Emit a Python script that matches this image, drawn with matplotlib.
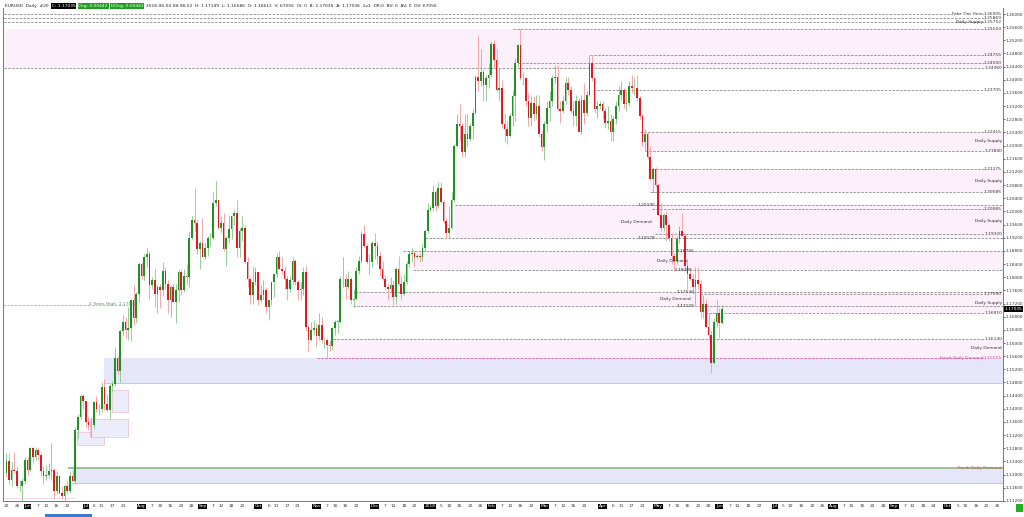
import numpy as np
import pandas as pd
import matplotlib
matplotlib.use("Agg")
import matplotlib.pyplot as plt
from matplotlib.patches import Rectangle

# ---------------------------------------------------------------- data
first_bar = "2017-05-22"
calendar_end = "2018-11-30"

opens = [
    # May 2017
    1.1205, 1.1240, 1.1185, 1.1215, 1.1210, 1.1165, 1.1165, 1.1180,
    # Jun 2017
    1.1245, 1.1215, 1.1280, 1.1255, 1.1275, 1.1260, 1.1210, 1.1195, 1.1200, 1.1210, 1.1215,
    1.1150, 1.1195, 1.1145, 1.1135, 1.1165, 1.1150, 1.1195, 1.1180, 1.1335, 1.1375, 1.1440,
    # Jul 2017
    1.1425, 1.1360, 1.1350, 1.1350, 1.1420, 1.1400, 1.1400, 1.1465, 1.1415, 1.1395, 1.1470,
    1.1475, 1.1555, 1.1515, 1.1635, 1.1665, 1.1640, 1.1645, 1.1730, 1.1675, 1.1750,
    # Aug 2017
    1.1840, 1.1805, 1.1860, 1.1870, 1.1775, 1.1790, 1.1750, 1.1770, 1.1760, 1.1820, 1.1780,
    1.1730, 1.1770, 1.1725, 1.1760, 1.1815, 1.1760, 1.1805, 1.1800, 1.1920, 1.1975, 1.1965, 1.1885,
    # Sep 2017
    1.1905, 1.1860, 1.1890, 1.1920, 1.1920, 1.2025, 1.2035, 1.1950, 1.1965, 1.1885, 1.1920,
    1.1945, 1.1985, 1.1995, 1.1890, 1.1940, 1.1950, 1.1845, 1.1795, 1.1745, 1.1785,
    # Oct 2017
    1.1815, 1.1730, 1.1745, 1.1760, 1.1710, 1.1730, 1.1785, 1.1810, 1.1860, 1.1825, 1.1820,
    1.1795, 1.1765, 1.1790, 1.1850, 1.1785, 1.1760, 1.1765, 1.1815, 1.1650, 1.1610, 1.1640,
    # Nov 2017
    1.1645, 1.1620, 1.1655, 1.1610, 1.1610, 1.1595, 1.1590, 1.1645, 1.1665, 1.1665, 1.1795,
    1.1795, 1.1770, 1.1795, 1.1730, 1.1735, 1.1820, 1.1850, 1.1930, 1.1895, 1.1845, 1.1845,
    # Dec 2017
    1.1905, 1.1895, 1.1865, 1.1825, 1.1795, 1.1770, 1.1765, 1.1775, 1.1740, 1.1825, 1.1780,
    1.1750, 1.1785, 1.1840, 1.1870, 1.1875, 1.1860, 1.1865, 1.1860, 1.1890, 1.1940,
    # Jan 2018
    1.2005, 1.2010, 1.2060, 1.2015, 1.2070, 1.2030, 1.1970, 1.1935, 1.1950, 1.2035, 1.2200,
    1.2265, 1.2260, 1.2180, 1.2235, 1.2220, 1.2260, 1.2300, 1.2410, 1.2395, 1.2425, 1.2385, 1.2405,
    # Feb 2018
    1.2415, 1.2510, 1.2460, 1.2370, 1.2375, 1.2265, 1.2250, 1.2230, 1.2290, 1.2350,
    1.2450, 1.2505, 1.2405, 1.2405, 1.2335, 1.2285, 1.2330, 1.2295, 1.2320, 1.2235,
    # Mar 2018
    1.2195, 1.2265, 1.2315, 1.2335, 1.2405, 1.2410, 1.2310, 1.2305, 1.2335, 1.2390, 1.2370,
    1.2305, 1.2290, 1.2335, 1.2240, 1.2340, 1.2300, 1.2355, 1.2450, 1.2405, 1.2310, 1.2320,
    # Apr 2018
    1.2325, 1.2305, 1.2270, 1.2275, 1.2240, 1.2280, 1.2320, 1.2355, 1.2370, 1.2325, 1.2330,
    1.2380, 1.2375, 1.2375, 1.2345, 1.2290, 1.2210, 1.2235, 1.2165, 1.2100, 1.2130,
    # May 2018
    1.2080, 1.1990, 1.1950, 1.1990, 1.1960, 1.1920, 1.1865, 1.1850, 1.1915, 1.1940, 1.1925,
    1.1835, 1.1810, 1.1795, 1.1770, 1.1790, 1.1780, 1.1695, 1.1720, 1.1650, 1.1625, 1.1540, 1.1665,
    # Jun 2018
    1.1690, 1.16612,
]
highs = [
    1.1265, 1.1265, 1.1238, 1.1268, 1.1225, 1.1185, 1.1190, 1.1255,
    1.1255, 1.1285, 1.1285, 1.1285, 1.1280, 1.1265, 1.1225, 1.1230, 1.1235, 1.1295, 1.1220,
    1.1210, 1.1200, 1.1165, 1.1170, 1.1185, 1.1210, 1.1215, 1.1345, 1.1385, 1.1445, 1.1445,
    1.1425, 1.1375, 1.1375, 1.1425, 1.1440, 1.1415, 1.1480, 1.1490, 1.1445, 1.1475, 1.1485,
    1.1585, 1.1560, 1.1640, 1.1685, 1.1680, 1.1710, 1.1735, 1.1775, 1.1755, 1.1845,
    1.1845, 1.1870, 1.1890, 1.1880, 1.1800, 1.1825, 1.1775, 1.1780, 1.1845, 1.1830, 1.1790,
    1.1775, 1.1780, 1.1780, 1.1825, 1.1825, 1.1825, 1.1840, 1.1940, 1.1985, 1.2070, 1.1975, 1.1910,
    1.1980, 1.1905, 1.1925, 1.1935, 1.2060, 1.2092, 1.2035, 1.1985, 1.1995, 1.1925, 1.1990,
    1.1985, 1.2005, 1.2035, 1.1950, 1.1985, 1.1960, 1.1860, 1.1800, 1.1835, 1.1830,
    1.1815, 1.1775, 1.1790, 1.1770, 1.1730, 1.1785, 1.1810, 1.1875, 1.1880, 1.1860, 1.1835,
    1.1805, 1.1805, 1.1860, 1.1855, 1.1790, 1.1785, 1.1830, 1.1835, 1.1655, 1.1665, 1.1670,
    1.1660, 1.1690, 1.1680, 1.1615, 1.1615, 1.1610, 1.1650, 1.1670, 1.1670, 1.1805, 1.1860,
    1.1810, 1.1820, 1.1800, 1.1765, 1.1830, 1.1865, 1.1940, 1.1960, 1.1900, 1.1870, 1.1910,
    1.1935, 1.1910, 1.1880, 1.1850, 1.1805, 1.1780, 1.1800, 1.1790, 1.1830, 1.1865, 1.1805,
    1.1810, 1.1850, 1.1880, 1.1890, 1.1880, 1.1870, 1.1875, 1.1905, 1.1945, 1.2025,
    1.2020, 1.2080, 1.2065, 1.2090, 1.2090, 1.2035, 1.1980, 1.2015, 1.2060, 1.2205, 1.2295,
    1.2325, 1.2270, 1.2295, 1.2295, 1.2270, 1.2310, 1.2415, 1.2537, 1.2495, 1.2430, 1.2415, 1.2450,
    1.2517, 1.2520, 1.2495, 1.2435, 1.2400, 1.2295, 1.2275, 1.2300, 1.2370, 1.2465,
    1.2510, 1.2555, 1.2425, 1.2410, 1.2360, 1.2350, 1.2350, 1.2355, 1.2355, 1.2245,
    1.2275, 1.2335, 1.2365, 1.2415, 1.2445, 1.2445, 1.2335, 1.2350, 1.2410, 1.2410, 1.2380,
    1.2335, 1.2355, 1.2345, 1.2355, 1.2390, 1.2365, 1.2475, 1.2476, 1.2410, 1.2335, 1.2335,
    1.2335, 1.2315, 1.2320, 1.2295, 1.2290, 1.2335, 1.2380, 1.2395, 1.2375, 1.2365, 1.2395,
    1.2415, 1.2410, 1.2415, 1.2350, 1.2295, 1.2250, 1.2240, 1.2200, 1.2135, 1.2135,
    1.2085, 1.2025, 1.1995, 1.2000, 1.1965, 1.1935, 1.1875, 1.1925, 1.1955, 1.1995, 1.1935,
    1.1850, 1.1830, 1.1810, 1.1830, 1.1830, 1.1790, 1.1745, 1.1735, 1.1690, 1.1640, 1.1675, 1.1730,
    1.1705, 1.17149,
]
lows = [
    1.1195, 1.1170, 1.1165, 1.1205, 1.1160, 1.1150, 1.1110, 1.1175,
    1.1200, 1.1210, 1.1235, 1.1245, 1.1245, 1.1195, 1.1170, 1.1185, 1.1190, 1.1185, 1.1130,
    1.1140, 1.1140, 1.1130, 1.1120, 1.1140, 1.1145, 1.1180, 1.1170, 1.1310, 1.1370, 1.1400,
    1.1345, 1.1335, 1.1315, 1.1340, 1.1390, 1.1380, 1.1390, 1.1395, 1.1390, 1.1370, 1.1455,
    1.1470, 1.1505, 1.1480, 1.1620, 1.1615, 1.1610, 1.1605, 1.1655, 1.1660, 1.1725,
    1.1795, 1.1790, 1.1830, 1.1730, 1.1765, 1.1710, 1.1690, 1.1705, 1.1745, 1.1765, 1.1690,
    1.1680, 1.1725, 1.1660, 1.1725, 1.1745, 1.1755, 1.1775, 1.1770, 1.1915, 1.1940, 1.1870, 1.1825,
    1.1860, 1.1855, 1.1865, 1.1895, 1.1915, 1.2015, 1.1945, 1.1935, 1.1880, 1.1835, 1.1905,
    1.1915, 1.1960, 1.1860, 1.1860, 1.1910, 1.1840, 1.1770, 1.1720, 1.1720, 1.1775,
    1.1715, 1.1725, 1.1730, 1.1690, 1.1670, 1.1715, 1.1740, 1.1800, 1.1825, 1.1810, 1.1765,
    1.1730, 1.1755, 1.1780, 1.1775, 1.1730, 1.1730, 1.1745, 1.1635, 1.1575, 1.1605, 1.1625,
    1.1590, 1.1610, 1.1600, 1.1585, 1.1555, 1.1575, 1.1580, 1.1625, 1.1630, 1.1660, 1.1770,
    1.1735, 1.1765, 1.1720, 1.1710, 1.1730, 1.1810, 1.1845, 1.1890, 1.1840, 1.1810, 1.1830,
    1.1855, 1.1840, 1.1805, 1.1790, 1.1760, 1.1730, 1.1755, 1.1715, 1.1720, 1.1775, 1.1730,
    1.1745, 1.1780, 1.1830, 1.1845, 1.1835, 1.1855, 1.1845, 1.1850, 1.1880, 1.1935,
    1.2000, 1.2000, 1.2000, 1.2010, 1.2025, 1.1965, 1.1915, 1.1920, 1.1945, 1.2030, 1.2195,
    1.2215, 1.2165, 1.2165, 1.2200, 1.2215, 1.2220, 1.2295, 1.2365, 1.2380, 1.2335, 1.2335, 1.2375,
    1.2410, 1.2435, 1.2365, 1.2335, 1.2255, 1.2210, 1.2206, 1.2225, 1.2260, 1.2275,
    1.2440, 1.2400, 1.2385, 1.2320, 1.2260, 1.2260, 1.2275, 1.2280, 1.2225, 1.2185,
    1.2155, 1.2240, 1.2275, 1.2320, 1.2390, 1.2305, 1.2270, 1.2300, 1.2325, 1.2355, 1.2300,
    1.2260, 1.2260, 1.2240, 1.2235, 1.2265, 1.2290, 1.2350, 1.2395, 1.2300, 1.2285, 1.2310,
    1.2285, 1.2255, 1.2250, 1.2215, 1.2215, 1.2265, 1.2305, 1.2340, 1.2315, 1.2305, 1.2320,
    1.2360, 1.2355, 1.2335, 1.2280, 1.2200, 1.2185, 1.2160, 1.2095, 1.2055, 1.2075,
    1.1985, 1.1940, 1.1940, 1.1910, 1.1910, 1.1840, 1.1820, 1.1840, 1.1905, 1.1925, 1.1820,
    1.1765, 1.1790, 1.1750, 1.1715, 1.1765, 1.1675, 1.1675, 1.1645, 1.1610, 1.1510, 1.1535, 1.1650,
    1.1615, 1.16586,
]
closes = [
    1.1240, 1.1185, 1.1215, 1.1210, 1.1165, 1.1165, 1.1180, 1.1245,
    1.1215, 1.1280, 1.1255, 1.1275, 1.1260, 1.1210, 1.1195, 1.1200, 1.1210, 1.1215, 1.1150,
    1.1195, 1.1145, 1.1135, 1.1165, 1.1150, 1.1195, 1.1180, 1.1335, 1.1375, 1.1440, 1.1425,
    1.1360, 1.1350, 1.1350, 1.1420, 1.1400, 1.1400, 1.1465, 1.1415, 1.1395, 1.1470, 1.1475,
    1.1555, 1.1515, 1.1635, 1.1665, 1.1640, 1.1645, 1.1730, 1.1675, 1.1750, 1.1840,
    1.1805, 1.1860, 1.1870, 1.1775, 1.1790, 1.1750, 1.1770, 1.1760, 1.1820, 1.1780, 1.1730,
    1.1770, 1.1725, 1.1760, 1.1815, 1.1760, 1.1805, 1.1800, 1.1920, 1.1975, 1.1965, 1.1885, 1.1905,
    1.1860, 1.1890, 1.1920, 1.1920, 1.2025, 1.2035, 1.1950, 1.1965, 1.1885, 1.1920, 1.1945,
    1.1985, 1.1995, 1.1890, 1.1940, 1.1950, 1.1845, 1.1795, 1.1745, 1.1785, 1.1815,
    1.1730, 1.1745, 1.1760, 1.1710, 1.1730, 1.1785, 1.1810, 1.1860, 1.1825, 1.1820, 1.1795,
    1.1765, 1.1790, 1.1850, 1.1785, 1.1760, 1.1765, 1.1815, 1.1650, 1.1610, 1.1640, 1.1645,
    1.1620, 1.1655, 1.1610, 1.1610, 1.1595, 1.1590, 1.1645, 1.1665, 1.1665, 1.1795, 1.1795,
    1.1770, 1.1795, 1.1730, 1.1735, 1.1820, 1.1850, 1.1930, 1.1895, 1.1845, 1.1845, 1.1905,
    1.1895, 1.1865, 1.1825, 1.1795, 1.1770, 1.1765, 1.1775, 1.1740, 1.1825, 1.1780, 1.1750,
    1.1785, 1.1840, 1.1870, 1.1875, 1.1860, 1.1865, 1.1860, 1.1890, 1.1940, 1.2005,
    1.2010, 1.2060, 1.2015, 1.2070, 1.2030, 1.1970, 1.1935, 1.1950, 1.2035, 1.2200, 1.2265,
    1.2260, 1.2180, 1.2235, 1.2220, 1.2260, 1.2300, 1.2410, 1.2395, 1.2425, 1.2385, 1.2405, 1.2415,
    1.2510, 1.2460, 1.2370, 1.2375, 1.2265, 1.2250, 1.2230, 1.2290, 1.2350, 1.2450,
    1.2505, 1.2405, 1.2405, 1.2335, 1.2285, 1.2330, 1.2295, 1.2320, 1.2235, 1.2195,
    1.2265, 1.2315, 1.2335, 1.2405, 1.2410, 1.2310, 1.2305, 1.2335, 1.2390, 1.2370, 1.2305,
    1.2290, 1.2335, 1.2240, 1.2340, 1.2300, 1.2355, 1.2450, 1.2405, 1.2310, 1.2320, 1.2325,
    1.2305, 1.2270, 1.2275, 1.2240, 1.2280, 1.2320, 1.2355, 1.2370, 1.2325, 1.2330, 1.2380,
    1.2375, 1.2375, 1.2345, 1.2290, 1.2210, 1.2235, 1.2165, 1.2100, 1.2130, 1.2080,
    1.1990, 1.1950, 1.1990, 1.1960, 1.1920, 1.1865, 1.1850, 1.1915, 1.1940, 1.1925, 1.1835,
    1.1810, 1.1795, 1.1770, 1.1790, 1.1780, 1.1695, 1.1720, 1.1650, 1.1625, 1.1540, 1.1665, 1.1690,
    1.1660, 1.17035,
]

ytick_labels = ["1.11200", "1.11600", "1.12000", "1.12400", "1.12800", "1.13200", "1.13600",
                "1.14000", "1.14400", "1.14800", "1.15200", "1.15600", "1.16000", "1.16400",
                "1.16800", "1.17200", "1.17600", "1.18000", "1.18400", "1.18800", "1.19200",
                "1.19600", "1.20000", "1.20400", "1.20800", "1.21200", "1.21600", "1.22000",
                "1.22400", "1.22800", "1.23200", "1.23600", "1.24000", "1.24400", "1.24800",
                "1.25200", "1.25600", "1.26000"]

xtick_dates = ["2017-05-22", "2017-05-26", "2017-06-01", "2017-06-07", "2017-06-12", "2017-06-16",
               "2017-06-22", "2017-07-03", "2017-07-06", "2017-07-11", "2017-07-17", "2017-07-21",
               "2017-08-01", "2017-08-07", "2017-08-10", "2017-08-16", "2017-08-22", "2017-08-28",
               "2017-09-01", "2017-09-07", "2017-09-12", "2017-09-18", "2017-09-22", "2017-10-02",
               "2017-10-06", "2017-10-11", "2017-10-17", "2017-10-23", "2017-11-01", "2017-11-07",
               "2017-11-10", "2017-11-16", "2017-11-22", "2017-12-01", "2017-12-07", "2017-12-12",
               "2017-12-18", "2017-12-22", "2018-01-01", "2018-01-05", "2018-01-10", "2018-01-16",
               "2018-01-22", "2018-01-26", "2018-02-01", "2018-02-07", "2018-02-12", "2018-02-16",
               "2018-02-22", "2018-03-01", "2018-03-07", "2018-03-12", "2018-03-16", "2018-03-22",
               "2018-04-02", "2018-04-06", "2018-04-11", "2018-04-17", "2018-04-23", "2018-05-01",
               "2018-05-07", "2018-05-10", "2018-05-16", "2018-05-22", "2018-05-28", "2018-06-01",
               "2018-06-07", "2018-06-12", "2018-06-18", "2018-06-22", "2018-07-02", "2018-07-05",
               "2018-07-10", "2018-07-16", "2018-07-20", "2018-07-26", "2018-08-01", "2018-08-07",
               "2018-08-10", "2018-08-16", "2018-08-22", "2018-08-28", "2018-09-03", "2018-09-07",
               "2018-09-12", "2018-09-18", "2018-09-24", "2018-10-01", "2018-10-05", "2018-10-10",
               "2018-10-16", "2018-10-22", "2018-10-26"]
xtick_labels = ["22", "26", "Jun", "7", "12", "16", "22", "Jul", "6", "11", "17", "21",
                "Aug", "7", "10", "16", "22", "28", "Sep", "7", "12", "18", "22", "Oct",
                "6", "11", "17", "23", "Nov", "7", "10", "16", "22", "Dec", "7", "12",
                "18", "22", "2018", "5", "10", "16", "22", "26", "Feb", "7", "12", "16",
                "22", "Mar", "7", "12", "16", "22", "Apr", "6", "11", "17", "23", "May",
                "7", "10", "16", "22", "28", "Jun", "7", "12", "18", "22", "Jul", "5",
                "10", "16", "20", "26", "Aug", "7", "10", "16", "22", "28", "Sep", "7",
                "12", "18", "24", "Oct", "5", "10", "16", "22", "26"]
boxed_labels = ["Jan", "Feb", "Mar", "Apr", "May", "Jun", "Jul", "Aug", "Sep", "Oct", "Nov", "Dec", "2018"]

# horizontal levels with right-hand price labels
level_prices = [1.26005, 1.25869, 1.25752, 1.25550, 1.24755, 1.24500, 1.24360, 1.23705,
                1.22415, 1.21840, 1.21275, 1.20585, 1.20085, 1.19320, 1.17500, 1.16910,
                1.16130, 1.15555]
level_labels = ["1.26005", "1.25869", "1.25752", "1.25550", "1.24755", "1.24500", "1.24360",
                "1.23705", "1.22415", "1.21840", "1.21275", "1.20585", "1.20085", "1.19320",
                "1.17500", "1.16910", "1.16130", "1.15555"]
# demand levels with labels inside the chart
demand_prices = [1.20195, 1.19178, 1.18795, 1.18205, 1.17536, 1.17129]
demand_labels = ["1.20195", "1.19178", "1.18795", "1.18205", "1.17536", "1.17129"]
two_year_high = 1.17164

# zones: (upper, lower)
supply_zone_bounds = [(1.25550, 1.24360), (1.22415, 1.21840), (1.21275, 1.20585),
                      (1.20085, 1.19320), (1.17500, 1.16910)]
demand_zone_bounds = [(1.20195, 1.19178), (1.18795, 1.18205), (1.17536, 1.17129),
                      (1.16130, 1.15555)]
blue_zone_bounds = [(1.15555, 1.14780), (1.12215, 1.11745)]
small_box_bounds = [(1.13290, 1.12900), (1.13690, 1.13140), (1.14570, 1.13900)]

header_main = "EURUSD  Daily  #20"
header_close = "C: 1.17035"
header_chg = "Chg: 0.00442"
header_dchg = "DChg: 0.00442"
header_rest = ("2018-06-04 08:38:52  H: 1.17149  L: 1.16586  O: 1.16612  V: 67056  OI: 0  "
               "B: 1.17035  A: 1.17036  1x1  DR:0  BV: 0  AV: 0  DV: 67056")
current_price = 1.17035

# ---------------------------------------------------------------- layout helpers
W, H = 1024, 517
X0, PXB = 6.35, 2.65          # pixel x of first bar, pixels per bar
Y0, PXP = 14.0, 3290.0        # pixel y of 1.26, pixels per price unit


def px2i(px):
    return (px - X0) / PXB


def py2p(py):
    return 1.26 - (py - Y0) / PXP


cal = pd.bdate_range(first_bar, calendar_end)
n = len(closes)
idx = np.arange(n)
o = np.array(opens); h = np.array(highs); l = np.array(lows); c = np.array(closes)
assert len(o) == len(h) == len(l) == n

plt.rcParams["font.family"] = ["DejaVu Sans"]
fig = plt.figure(figsize=(W / 100, H / 100), dpi=100)
fig.patch.set_facecolor("white")
ax = fig.add_axes([3 / W, (H - 501) / H, 1000 / W, (501 - 8) / H])
ax.set_facecolor("white")
XMIN, XMAX = px2i(3), px2i(1003)
ax.set_xlim(XMIN, XMAX)
ax.set_ylim(py2p(501), py2p(8))

PINK = "#fcf0fb"
BLUE = "#e6e6fa"
LINE = "#8a8a8a"
DASH = (0, (3, 1.6))
TXT = "#333333"
FS = 3.2

# --- zone fills
supply_start_px = [0, 640, 648, 652, 700]
for (up, lo), sx in zip(supply_zone_bounds, supply_start_px):
    ax.add_patch(Rectangle((px2i(sx), lo), XMAX - px2i(sx), up - lo, fc=PINK, ec="none", zorder=0))
demand_start_px = [455, 413, 355, 333]
for (up, lo), sx in zip(demand_zone_bounds, demand_start_px):
    ax.add_patch(Rectangle((px2i(sx), lo), XMAX - px2i(sx), up - lo, fc=PINK, ec="none", zorder=0))
blue_start_px = [104, 72]
for (up, lo), sx in zip(blue_zone_bounds, blue_start_px):
    ax.add_patch(Rectangle((px2i(sx), lo), XMAX - px2i(sx), up - lo, fc=BLUE, ec="none", zorder=0))
    ax.hlines([lo], px2i(sx), XMAX, colors="#f0a8cc", lw=0.6, zorder=1)
box_x_px = [(77, 104), (90, 128), (112, 128)]
for (up, lo), (x1, x2) in zip(small_box_bounds, box_x_px):
    ax.add_patch(Rectangle((px2i(x1), lo), px2i(x2) - px2i(x1), up - lo, fc="#ececfb",
                           ec="#f0b8d4", lw=0.5, zorder=0.5))

# green line on the lower demand zone
ax.hlines([blue_zone_bounds[1][0]], px2i(68), XMAX, colors="#8fb58f", lw=1.2, zorder=1.2)
# faint low line
ax.hlines([1.11290], XMIN, px2i(75), colors="#f4c8dc", lw=0.5, zorder=1)

# --- dashed levels with right labels
level_start_px = [0, 0, 0, 513, 590, 518, 0, 593, 640, 645, 648, 650, 652, 655, 700, 705, 333, 317]
for p, lab, sx in zip(level_prices, level_labels, level_start_px):
    col = "#e05a9a" if lab == "1.15555" else LINE
    ax.hlines([p], px2i(sx), px2i(984), colors=col, lw=0.6, linestyles=[DASH], zorder=1)
    ax.text(px2i(1002), p, lab, ha="right", va="center", fontsize=FS,
            color=("#e04c8c" if lab == "1.15555" else TXT), zorder=5)

# --- demand levels with in-chart labels
demand_start_px = [455, 425, 403, 413, 355, 353]
demand_label_px = [638, 638, 677, 675, 677, 677]
for p, lab, sx, lx in zip(demand_prices, demand_labels, demand_start_px, demand_label_px):
    ax.hlines([p], px2i(sx), XMAX, colors=LINE, lw=0.6, linestyles=[DASH], zorder=1)
    ax.text(px2i(lx), p, lab, ha="left", va="center", fontsize=FS, color=TXT, zorder=5)

# 2 years high
ax.hlines([two_year_high], XMIN, px2i(137), colors="#9fb89f", lw=0.6, linestyles=[DASH], zorder=1)
ax.text(px2i(137), two_year_high + 0.0003, "2 Years High  1.17164", ha="right", va="center",
        fontsize=FS, color="#5f8a5f", zorder=5)

# zone descriptions
ax.text(px2i(983), level_prices[0], "Fake Out Here", ha="right", va="center", fontsize=FS,
        color=TXT, zorder=5, bbox=dict(fc="white", ec="none", pad=0.2))
ax.text(px2i(983), 1.25745, "Daily Supply", ha="right", va="center", fontsize=FS, color=TXT, zorder=5)
for up, lo in supply_zone_bounds[1:]:
    ax.text(px2i(1002), (up + lo) / 2, "Daily Supply", ha="right", va="center", fontsize=FS,
            color=TXT, zorder=5)
ax.text(px2i(1002), py2p(348), "Daily Demand", ha="right", va="center", fontsize=FS, color=TXT, zorder=5)
ax.text(px2i(984), 1.15555, "Fresh Daily Demand", ha="right", va="center", fontsize=FS,
        color="#e04c8c", zorder=5)
ax.text(px2i(1002), blue_zone_bounds[1][0], "Fresh Daily Demand", ha="right", va="center",
        fontsize=FS, color="#c0504d", zorder=5)
for lx, (up, lo) in zip([621, 657, 660], demand_zone_bounds[:3]):
    ax.text(px2i(lx), (up + lo) / 2, "Daily Demand", ha="left", va="center", fontsize=FS,
            color=TXT, zorder=5)

# --- candles
bull = c >= o
body_lo = np.minimum(o, c)
body_h = np.maximum(np.abs(c - o), 0.00006)
ax.vlines(idx[bull], l[bull], h[bull], colors="#86c586", lw=0.6, zorder=2)
ax.vlines(idx[~bull], l[~bull], h[~bull], colors="#f39a9a", lw=0.6, zorder=2)
ax.bar(idx[bull], body_h[bull], bottom=body_lo[bull], width=0.64, color="#1f931f", lw=0, zorder=3)
ax.bar(idx[~bull], body_h[~bull], bottom=body_lo[~bull], width=0.64, color="#e8161e", lw=0, zorder=3)

# --- axes / ticks
ax.spines["top"].set_visible(False)
for s in ["left", "right", "bottom"]:
    ax.spines[s].set_color("#777777")
    ax.spines[s].set_linewidth(0.7)
ax.yaxis.tick_right()
ax.set_yticks([float(v) for v in ytick_labels])
ax.set_yticklabels(ytick_labels)
ax.tick_params(axis="y", labelsize=3.1, length=1.2, width=0.5, pad=0.6, colors="#333333")

tick_pos = cal.get_indexer(pd.to_datetime(xtick_dates))
ax.set_xticks(tick_pos)
ax.set_xticklabels(xtick_labels)
ax.tick_params(axis="x", labelsize=FS, length=0, pad=2.2, colors="#333333")
for t in ax.get_xticklabels():
    if t.get_text() in boxed_labels:
        t.set_color("white")
        t.set_bbox(dict(fc="black", ec="none", pad=0.4))

# current price box
ax.text(1.0012, current_price, "1.17035", transform=ax.get_yaxis_transform(), ha="left",
        va="center", fontsize=3.1, color="white", zorder=6,
        bbox=dict(fc="black", ec="none", pad=0.5), clip_on=False)

# --- header (pieces placed one after the other)
renderer = fig.canvas.get_renderer()
hy = 1 - 6 / H
xcur = 5
pieces = [(header_main, "#222222", None), (header_close, "white", "black"),
          (header_chg, "white", "#1ea01e"), (header_dchg, "white", "#1ea01e"),
          (header_rest, "#222222", None)]
for txt, col, bg in pieces:
    kw = dict(fontsize=FS, color=col, va="center", ha="left")
    if bg is not None:
        kw["bbox"] = dict(fc=bg, ec="none", pad=0.5)
    t = fig.text(xcur / W, hy, txt, **kw)
    bb = t.get_window_extent(renderer=renderer)
    xcur += bb.width + 3

# bottom-right indicator and scrollbar
fig.patches.append(Rectangle((1016 / W, 5 / H), 7 / W, 8 / H, transform=fig.transFigure,
                             fc="#22b022", ec="none"))
fig.patches.append(Rectangle((45 / W, 0), 47 / W, 3 / H, transform=fig.transFigure,
                             fc="#3a7bd5", ec="none"))

fig.savefig("out.png", dpi=100)
